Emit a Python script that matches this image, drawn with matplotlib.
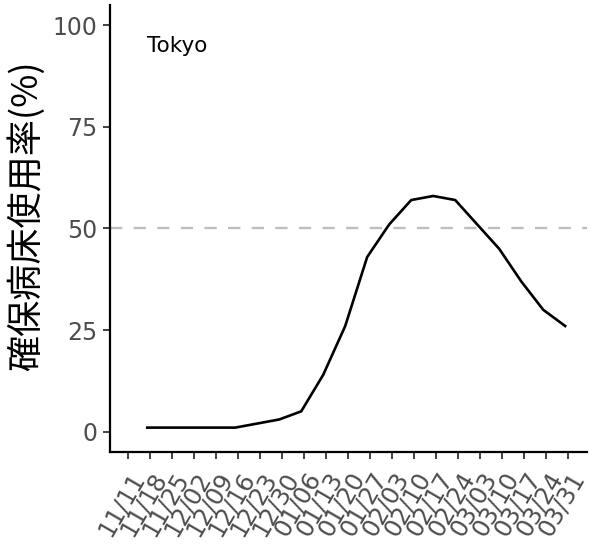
import matplotlib
matplotlib.use("Agg")
import matplotlib.pyplot as plt
import numpy as np
import pandas as pd

# Data
dates = pd.date_range("2021-11-17", periods=20, freq="7D")
usage = [1, 1, 1, 1, 1, 2, 3, 5, 14, 26, 43, 51, 57, 58, 57, 51, 45, 37, 30, 26]
tick_dates = pd.date_range("2021-11-11", "2022-03-31", freq="7D")
y_ticks = [0, 25, 50, 75, 100]
ylabel = "確保病床使用率(%)"
label_text = "Tokyo"
threshold = 50

fig = plt.figure(figsize=(5.96, 5.48), dpi=100)
ax = fig.add_axes([0.1846, 0.1752, 0.7998, 0.8157])

ax.axhline(threshold, color="#BEBEBE", lw=1.7, dashes=(5.2, 4.8), zorder=1)
ax.plot(dates, usage, color="black", lw=1.9, zorder=2, solid_joinstyle="round")

ax.text(dates[0], 95, label_text, ha="left", va="center", fontsize=15.5,
        family=["DejaVu Sans"], color="black")

pad = pd.Timedelta(days=5.85)
ax.set_xlim(tick_dates[0] - pad, tick_dates[-1] + pad)
ax.set_ylim(-5, 105)
ax.set_yticks(y_ticks)
ax.set_xticks(tick_dates)
ax.set_xticklabels([d.strftime("%m/%d") for d in tick_dates], rotation=60,
                   ha="right", va="top", rotation_mode="anchor")
ax.xaxis.set_tick_params(pad=6.5)
ax.yaxis.set_tick_params(pad=4)

for s in ["top", "right"]:
    ax.spines[s].set_visible(False)
for s in ["left", "bottom"]:
    ax.spines[s].set_linewidth(1.6)
    ax.spines[s].set_color("black")

ax.tick_params(axis="both", length=5, width=1.3, color="#333333",
               labelcolor="#4D4D4D", labelsize=17)
for lab in ax.get_xticklabels():
    lab.set_family(["DejaVu Sans"])
    lab.set_fontsize(17.5)
for lab in ax.get_yticklabels():
    lab.set_family(["DejaVu Sans"])

ax.set_ylabel(ylabel, fontsize=26, family=["Noto Sans CJK JP", "DejaVu Sans"],
              color="black")
ax.yaxis.set_label_coords(-0.137, 0.528)

fig.savefig("out.png", dpi=100)
